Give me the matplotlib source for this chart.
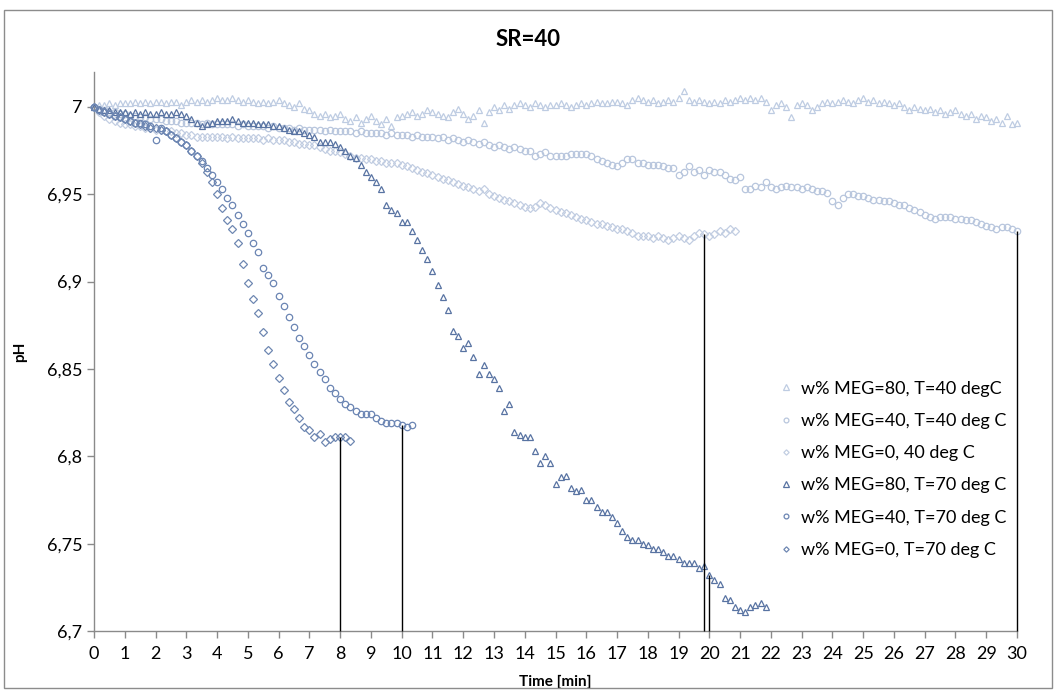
"""SR=40 - pH vs time for MEG / temperature runs"""
import matplotlib
matplotlib.use('Agg')
import matplotlib.pyplot as plt
import numpy as np
from matplotlib.patches import Rectangle
from matplotlib.ticker import FuncFormatter, MultipleLocator

plt.rcParams['font.family'] = ['Lato', 'DejaVu Sans']

# one sample every 10 s -> time in minutes
STEP_MIN = 10 / 60

labels = ['w% MEG=80, T=40 degC', 'w% MEG=40, T=40 deg C', 'w% MEG=0, 40 deg C',
          'w% MEG=80, T=70 deg C', 'w% MEG=40, T=70 deg C', 'w% MEG=0, T=70 deg C']

meg80_t40 = [
    7.000, 7.001, 7.001, 7.002, 7.001, 7.002,
    7.002, 7.002, 7.003, 7.002, 7.003, 7.002,
    7.003, 7.003, 7.002, 7.003, 7.003, 7.001,
    7.003, 7.004, 7.003, 7.004, 7.003, 7.004,
    7.005, 7.004, 7.004, 7.005, 7.004, 7.003,
    7.004, 7.003, 7.002, 7.003, 7.002, 7.003,
    7.004, 7.002, 7.001, 7.000, 7.002, 6.999,
    6.998, 6.996, 6.995, 6.996, 6.994, 6.995,
    6.996, 6.993, 6.992, 6.994, 6.991, 6.993,
    6.995, 6.992, 6.990, 6.993, 6.989, 6.994,
    6.995, 6.996, 6.997, 6.995, 6.996, 6.998,
    6.997, 6.996, 6.995, 6.994, 6.997, 6.999,
    6.996, 6.993, 6.995, 6.998, 6.991, 6.997,
    7.000, 6.998, 7.001, 6.999, 7.001, 7.002,
    7.001, 7.000, 7.002, 7.001, 7.000, 7.001,
    7.001, 7.002, 7.001, 7.000, 7.001, 7.002,
    7.001, 7.002, 7.003, 7.002, 7.002, 7.003,
    7.003, 7.002, 7.001, 7.004, 7.005, 7.004,
    7.003, 7.004, 7.002, 7.003, 7.004, 7.003,
    7.005, 7.009, 7.004, 7.003, 7.004, 7.003,
    7.002, 7.003, 7.002, 7.004, 7.003, 7.004,
    7.005, 7.004, 7.005, 7.004, 7.005, 7.003,
    6.998, 7.001, 7.002, 7.000, 6.994, 7.001,
    7.002, 7.001, 6.998, 7.000, 7.002, 7.003,
    7.002, 7.003, 7.004, 7.003, 7.002, 7.004,
    7.005, 7.003, 7.004, 7.002, 7.003, 7.002,
    7.001, 7.002, 7.000, 6.998, 7.000, 6.999,
    6.998, 6.999, 6.997, 6.998, 6.996, 6.997,
    6.998, 6.996, 6.995, 6.996, 6.993, 6.995,
    6.994, 6.992, 6.993, 6.991, 6.995, 6.990,
    6.991,
]

meg40_t40 = [
    7.000, 6.999, 6.998, 6.997, 6.997, 6.996,
    6.996, 6.995, 6.995, 6.994, 6.994, 6.993,
    6.993, 6.993, 6.992, 6.992, 6.992, 6.991,
    6.991, 6.991, 6.991, 6.990, 6.991, 6.990,
    6.990, 6.990, 6.990, 6.990, 6.989, 6.990,
    6.989, 6.989, 6.989, 6.989, 6.988, 6.989,
    6.988, 6.988, 6.988, 6.987, 6.988, 6.987,
    6.987, 6.987, 6.987, 6.986, 6.987, 6.986,
    6.986, 6.986, 6.986, 6.985, 6.986, 6.985,
    6.985, 6.985, 6.985, 6.984, 6.985, 6.984,
    6.984, 6.984, 6.983, 6.984, 6.983, 6.983,
    6.983, 6.982, 6.983, 6.981, 6.982, 6.981,
    6.980, 6.981, 6.980, 6.979, 6.980, 6.978,
    6.977, 6.978, 6.977, 6.976, 6.977, 6.976,
    6.975, 6.975, 6.972, 6.973, 6.974, 6.972,
    6.972, 6.972, 6.972, 6.973, 6.973, 6.973,
    6.973, 6.972, 6.970, 6.969, 6.968, 6.967,
    6.966, 6.968, 6.970, 6.970, 6.968, 6.968,
    6.967, 6.967, 6.967, 6.966, 6.965, 6.965,
    6.961, 6.963, 6.966, 6.963, 6.964, 6.961,
    6.964, 6.963, 6.963, 6.961, 6.959, 6.958,
    6.960, 6.953, 6.953, 6.955, 6.954, 6.957,
    6.954, 6.953, 6.954, 6.955, 6.954, 6.954,
    6.953, 6.954, 6.953, 6.952, 6.952, 6.951,
    6.946, 6.944, 6.948, 6.950, 6.950, 6.949,
    6.949, 6.948, 6.947, 6.947, 6.946, 6.946,
    6.945, 6.944, 6.944, 6.942, 6.941, 6.940,
    6.938, 6.937, 6.936, 6.937, 6.937, 6.937,
    6.936, 6.936, 6.935, 6.935, 6.934, 6.933,
    6.932, 6.931, 6.930, 6.931, 6.931, 6.930,
    6.929,
]

meg0_t40 = [
    7.000, 6.997, 6.995, 6.993, 6.992, 6.991,
    6.990, 6.990, 6.989, 6.989, 6.988, 6.988,
    6.987, 6.987, 6.986, 6.986, 6.985, 6.985,
    6.984, 6.984, 6.983, 6.983, 6.983, 6.983,
    6.983, 6.983, 6.982, 6.983, 6.982, 6.982,
    6.982, 6.982, 6.982, 6.981, 6.982, 6.981,
    6.981, 6.981, 6.980, 6.980, 6.979, 6.979,
    6.978, 6.978, 6.977, 6.976, 6.975, 6.975,
    6.974, 6.973, 6.972, 6.971, 6.971, 6.970,
    6.970, 6.969, 6.969, 6.968, 6.968, 6.968,
    6.967, 6.966, 6.965, 6.964, 6.963, 6.962,
    6.961, 6.960, 6.959, 6.958, 6.957, 6.956,
    6.955, 6.954, 6.953, 6.952, 6.953, 6.950,
    6.949, 6.948, 6.947, 6.946, 6.945, 6.944,
    6.943, 6.942, 6.943, 6.945, 6.944, 6.942,
    6.941, 6.940, 6.939, 6.938, 6.937, 6.936,
    6.935, 6.934, 6.933, 6.933, 6.932, 6.931,
    6.930, 6.930, 6.929, 6.928, 6.926, 6.926,
    6.926, 6.925, 6.926, 6.925, 6.924, 6.925,
    6.926, 6.925, 6.924, 6.926, 6.928, 6.927,
    6.926, 6.927, 6.929, 6.928, 6.930, 6.929,
]

meg80_t70 = [
    7.000, 6.999, 6.998, 6.998, 6.997, 6.997,
    6.997, 6.996, 6.997, 6.996, 6.997, 6.996,
    6.996, 6.997, 6.996, 6.996, 6.997, 6.996,
    6.995, 6.993, 6.991, 6.989, 6.990, 6.991,
    6.992, 6.992, 6.992, 6.993, 6.992, 6.991,
    6.991, 6.991, 6.990, 6.990, 6.990, 6.989,
    6.989, 6.988, 6.987, 6.986, 6.986, 6.985,
    6.984, 6.983, 6.980, 6.980, 6.980, 6.979,
    6.977, 6.975, 6.972, 6.971, 6.967, 6.963,
    6.960, 6.957, 6.953, 6.944, 6.941, 6.939,
    6.934, 6.934, 6.929, 6.924, 6.918, 6.913,
    6.906, 6.898, 6.891, 6.884, 6.872, 6.869,
    6.862, 6.865, 6.857, 6.847, 6.852, 6.847,
    6.844, 6.839, 6.826, 6.830, 6.814, 6.812,
    6.811, 6.811, 6.803, 6.796, 6.800, 6.796,
    6.784, 6.788, 6.789, 6.782, 6.780, 6.781,
    6.775, 6.775, 6.771, 6.768, 6.768, 6.765,
    6.762, 6.757, 6.754, 6.752, 6.752, 6.750,
    6.749, 6.747, 6.747, 6.745, 6.743, 6.743,
    6.741, 6.739, 6.739, 6.739, 6.736, 6.737,
    6.732, 6.729, 6.727, 6.719, 6.718, 6.714,
    6.712, 6.711, 6.714, 6.715, 6.716, 6.714,
]

meg40_t70 = [
    7.000, 6.998, 6.997, 6.996, 6.995, 6.994,
    6.993, 6.992, 6.991, 6.991, 6.990, 6.989,
    6.981, 6.988, 6.986, 6.984, 6.982, 6.980,
    6.978, 6.975, 6.972, 6.969, 6.965, 6.961,
    6.957, 6.953, 6.948, 6.944, 6.938, 6.933,
    6.928, 6.922, 6.917, 6.908, 6.904, 6.899,
    6.892, 6.886, 6.880, 6.874, 6.868, 6.863,
    6.858, 6.853, 6.848, 6.844, 6.839, 6.836,
    6.833, 6.830, 6.828, 6.826, 6.824, 6.824,
    6.824, 6.822, 6.820, 6.819, 6.819, 6.819,
    6.818, 6.817, 6.818,
]

meg0_t70 = [
    7.000, 6.998, 6.997, 6.996, 6.995, 6.994,
    6.993, 6.992, 6.991, 6.990, 6.989, 6.988,
    6.988, 6.987, 6.986, 6.984, 6.982, 6.980,
    6.978, 6.975, 6.972, 6.968, 6.963, 6.957,
    6.950, 6.942, 6.935, 6.930, 6.922, 6.910,
    6.899, 6.890, 6.882, 6.871, 6.861, 6.853,
    6.845, 6.838, 6.831, 6.827, 6.822, 6.817,
    6.815, 6.811, 6.813, 6.808, 6.810, 6.811,
    6.811, 6.811, 6.809,
]

series = [meg80_t40, meg40_t40, meg0_t40, meg80_t70, meg40_t70, meg0_t70]
markers = ['^', 'o', 'D', '^', 'o', 'D']
sizes = [5.0, 4.6, 3.6, 5.0, 4.6, 3.6]
colors = ['#BECCE2', '#B8C6DD', '#C2CEE2', '#5873A2', '#6B85B3', '#6E87B2']

W, H = 1057, 690
fig = plt.figure(figsize=(W / 100, H / 100), dpi=100)
ax = fig.add_axes([94 / W, 1 - 631 / H, (1017 - 94) / W, (631 - 72) / H])

for vals, m, ms, c, lab in zip(series, markers, sizes, colors, labels):
    t = np.arange(len(vals)) * STEP_MIN
    ax.plot(t, vals, linestyle='none', marker=m, markersize=ms,
            markerfacecolor='none', markeredgecolor=c, markeredgewidth=0.9,
            label=lab, clip_on=False, zorder=3)

# drop lines marking the end of each run
drops = [(meg0_t70, 48), (meg40_t70, 60), (meg0_t40, 119), (meg80_t70, 120), (meg40_t40, 180)]
for vals, i in drops:
    ax.vlines(i * STEP_MIN, 6.7, vals[i], color='black', lw=1.0, zorder=4, clip_on=False)

ax.set_xlim(0, 30)
ax.set_ylim(6.7, 7.02)
ax.xaxis.set_major_locator(MultipleLocator(1))
ax.set_yticks(np.arange(6.7, 7.001, 0.05))
ax.yaxis.set_major_formatter(FuncFormatter(lambda v, _: ('%g' % round(v, 3)).replace('.', ',')))

for side in ['top', 'right']:
    ax.spines[side].set_visible(False)
for side in ['left', 'bottom']:
    ax.spines[side].set_color('#8A8A8A')
    ax.spines[side].set_linewidth(1.0)
ax.tick_params(axis='both', colors='#8A8A8A', labelcolor='black', labelsize=13,
               length=5, width=1.0, direction='out')
ax.tick_params(axis='x', pad=6)

ax.set_xlabel('Time [min]', fontsize=11, fontweight='bold')
ax.xaxis.set_label_coords(0.5, -0.078)
ax.set_ylabel('pH', fontsize=11, fontweight='bold')
ax.yaxis.set_label_coords(-0.072, 0.5)

fig.text(0.5, 1 - 40 / H, 'SR=40', ha='center', va='center', fontsize=16, fontweight='bold')

ax.legend(loc='upper left', bbox_to_anchor=(766 / W, 1 - 368 / H),
          bbox_transform=fig.transFigure, frameon=False, fontsize=13,
          handlelength=0.8, handletextpad=0.45, labelspacing=0.9,
          markerscale=0.75, borderpad=0.2)

fig.patches.append(Rectangle((4 / W, 2 / H), 1048 / W, 1 - 12 / H, transform=fig.transFigure,
                             fill=False, edgecolor='#8C8C8C', lw=1.0))

fig.savefig('out.png', dpi=100)
plt.close(fig)
